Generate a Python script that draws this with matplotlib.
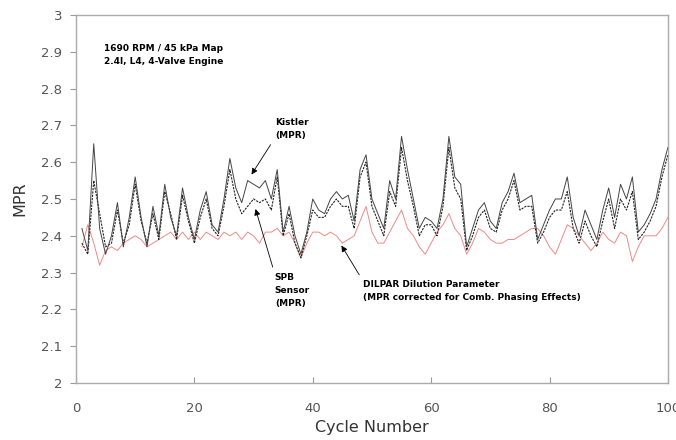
import numpy as np
import matplotlib.pyplot as plt

# cycle numbers and MPR values
cycles = np.arange(1, 101)

kistler = [2.42, 2.36, 2.65, 2.42, 2.35, 2.40, 2.49, 2.37, 2.45, 2.56,
           2.45, 2.37, 2.48, 2.40, 2.54, 2.45, 2.40, 2.53, 2.45, 2.39,
           2.47, 2.52, 2.43, 2.41, 2.50, 2.61, 2.53, 2.49, 2.55, 2.54,
           2.53, 2.55, 2.50, 2.58, 2.41, 2.48, 2.40, 2.35, 2.41, 2.50,
           2.47, 2.46, 2.50, 2.52, 2.50, 2.51, 2.44, 2.58, 2.62, 2.50,
           2.46, 2.42, 2.55, 2.50, 2.67, 2.58, 2.50, 2.42, 2.45, 2.44,
           2.42, 2.50, 2.67, 2.56, 2.54, 2.37, 2.42, 2.47, 2.49, 2.44,
           2.42, 2.49, 2.52, 2.57, 2.49, 2.50, 2.51, 2.39, 2.43, 2.47,
           2.50, 2.50, 2.56, 2.45, 2.40, 2.47, 2.43, 2.39, 2.47, 2.53,
           2.45, 2.54, 2.50, 2.56, 2.41, 2.43, 2.46, 2.50, 2.58, 2.64]

spb = [2.38, 2.35, 2.55, 2.46, 2.37, 2.38, 2.47, 2.38, 2.43, 2.54,
       2.44, 2.38, 2.46, 2.39, 2.52, 2.46, 2.39, 2.51, 2.44, 2.38,
       2.45, 2.50, 2.42, 2.40, 2.48, 2.58, 2.50, 2.46, 2.48, 2.50,
       2.49, 2.50, 2.47, 2.56, 2.40, 2.46, 2.38, 2.34, 2.40, 2.47,
       2.45, 2.45, 2.48, 2.50, 2.48, 2.48, 2.42, 2.56, 2.60, 2.48,
       2.44, 2.40, 2.52, 2.48, 2.64, 2.55, 2.48, 2.40, 2.43, 2.43,
       2.40, 2.48, 2.64, 2.53, 2.50, 2.36, 2.40, 2.45, 2.47, 2.42,
       2.41, 2.47, 2.50, 2.55, 2.47, 2.48, 2.48, 2.38, 2.41, 2.45,
       2.47, 2.47, 2.52, 2.42, 2.38, 2.44, 2.40, 2.37, 2.44, 2.50,
       2.42, 2.50, 2.47, 2.52, 2.39, 2.41, 2.44, 2.48, 2.56, 2.62]

dilpar = [2.37, 2.43, 2.38, 2.32, 2.36, 2.37, 2.36, 2.38, 2.39, 2.40,
          2.39, 2.37, 2.38, 2.39, 2.40, 2.41, 2.39, 2.41, 2.39, 2.41,
          2.39, 2.41, 2.40, 2.39, 2.41, 2.40, 2.41, 2.39, 2.41, 2.40,
          2.38, 2.41, 2.41, 2.42, 2.40, 2.41, 2.38, 2.34, 2.38, 2.41,
          2.41, 2.40, 2.41, 2.40, 2.38, 2.39, 2.40, 2.44, 2.48, 2.41,
          2.38, 2.38, 2.41, 2.44, 2.47, 2.42, 2.40, 2.37, 2.35, 2.38,
          2.41, 2.43, 2.46, 2.42, 2.40, 2.35, 2.38, 2.42, 2.41, 2.39,
          2.38, 2.38, 2.39, 2.39, 2.40, 2.41, 2.42, 2.42, 2.40, 2.37,
          2.35, 2.39, 2.43, 2.42, 2.40, 2.38, 2.36, 2.38, 2.41, 2.39,
          2.38, 2.41, 2.40, 2.33, 2.37, 2.40, 2.40, 2.40, 2.42, 2.45]

x_ticks = [0, 20, 40, 60, 80, 100]
y_ticks = [2, 2.1, 2.2, 2.3, 2.4, 2.5, 2.6, 2.7, 2.8, 2.9, 3]
y_labels = ['2', '2.1', '2.2', '2.3', '2.4', '2.5', '2.6', '2.7', '2.8', '2.9', '3']

fig = plt.figure(figsize=(6.76, 4.4), dpi=100)
ax = fig.add_axes([0.1124, 0.1295, 0.8756, 0.8365])

ax.plot(cycles, dilpar, color='#ee8a86', lw=0.7)
ax.plot(cycles, spb, color='#222222', lw=0.8, linestyle=(0, (2, 1)))
ax.plot(cycles, kistler, color='#444444', lw=0.7)

ax.set_xlim(0, 100)
ax.set_ylim(2, 3)
ax.set_xticks(x_ticks)
ax.set_yticks(y_ticks)
ax.set_yticklabels(y_labels)
ax.tick_params(axis='x', direction='in', length=4, color='#999999',
               labelcolor='#555555', labelsize=9.5, pad=14)
ax.tick_params(axis='y', direction='out', length=4, color='#999999',
               labelcolor='#555555', labelsize=9.5, pad=6)
for s in ax.spines.values():
    s.set_color('#aaaaaa')
    s.set_linewidth(1.0)

ax.set_xlabel('Cycle Number', fontsize=11.5, color='#333333', labelpad=3)
ax.set_ylabel('MPR', fontsize=11.5, color='#333333', labelpad=10)

# annotations
ax.text(4.7, 2.92, '1690 RPM / 45 kPa Map\n2.4l, L4, 4-Valve Engine',
        fontsize=6.5, fontweight='bold', va='top', ha='left', linespacing=1.5)

arrow = dict(arrowstyle='-|>', color='black', lw=0.6, mutation_scale=9)
ax.annotate('Kistler\n(MPR)', xy=(29.4, 2.56), xytext=(33.6, 2.72),
            fontsize=6.5, fontweight='bold', va='top', ha='left',
            linespacing=1.6, arrowprops=dict(arrow, relpos=(0, 0.1)))
ax.annotate('SPB\nSensor\n(MPR)', xy=(30.2, 2.48), xytext=(33.6, 2.30),
            fontsize=6.5, fontweight='bold', va='top', ha='left',
            linespacing=1.6, arrowprops=dict(arrow, relpos=(0, 0.95)))
ax.annotate('DILPAR Dilution Parameter\n(MPR corrected for Comb. Phasing Effects)',
            xy=(44.6, 2.38), xytext=(48.5, 2.28),
            fontsize=6.5, fontweight='bold', va='top', ha='left',
            linespacing=1.6, arrowprops=dict(arrow, relpos=(0, 0.95)))

fig.savefig('out.png', dpi=100)
